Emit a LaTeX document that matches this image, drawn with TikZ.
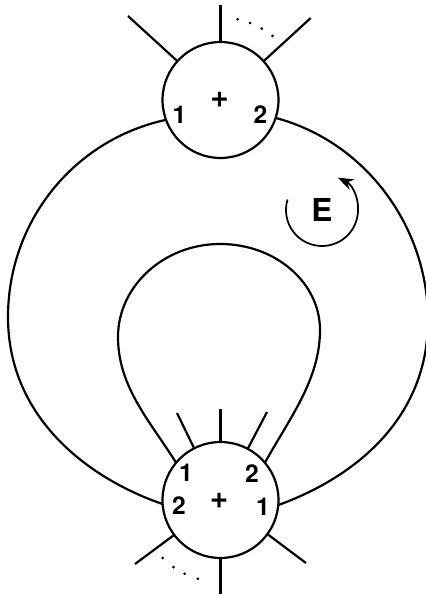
\documentclass[tikz,border=0pt]{standalone}
\usepackage{fontspec}
\setmainfont{TeX Gyre Heros}
\usetikzlibrary{arrows.meta}
\tikzset{
  vertex/.style={circle, draw, line width=1.25pt, minimum size=2.32cm, inner sep=0pt, outer sep=0pt},
  num/.style={font=\fontsize{14}{14}\selectfont\bfseries, inner sep=0pt},
  sign/.style={font=\fontsize{18}{18}\selectfont\bfseries, inner sep=0pt},
}
\begin{document}
\begin{tikzpicture}[x=0.02cm, y=0.02cm, line width=1.25pt]
\useasboundingbox (0,0) rectangle (426,596);
\node[vertex] (top) at (220.5,496) {};
\node[vertex] (bot) at (220.5,96) {};
% labels in the upper vertex
\node[sign] (topplus) at (219.5,496) {+};
\node[num] (top1) at (179.5,481) {1};
\node[num] (top2) at (260.5,481) {2};
% labels in the lower vertex
\node[sign] (botplus) at (219,95) {+};
\node[num] (bot1a) at (186,123) {1};
\node[num] (bot2a) at (252,122) {2};
\node[num] (bot2b) at (179,90) {2};
\node[num] (bot1b) at (263,89) {1};
% free ends of the legs
\coordinate (tl) at (128,580);
\coordinate (tm) at (220.5,591);
\coordinate (tr) at (310.7,578);
\coordinate (bl1) at (177,183);
\coordinate (bm1) at (220.5,187);
\coordinate (br1) at (267,184);
\coordinate (bl2) at (135,32);
\coordinate (bm2) at (220.5,2);
\coordinate (br2) at (306,33);
% Legs
\draw (top.138) -- (tl);
\draw (top.90) -- (tm);
\draw (top.42) -- (tr);
\draw (bot.117) -- (bl1);
\draw (bot.90) -- (bm1);
\draw (bot.62) -- (br1);
\draw (bot.217) -- (bl2);
\draw (bot.270) -- (bm2);
\draw (bot.324) -- (br2);
% dots
\foreach \a in {51,60,69,78} \fill (top.center) ++(\a:82.5) circle (1.5);
\foreach \a in {225,235,244,254} \fill (bot.center) ++(\a:82) circle (1.5);
% outer loop
\coordinate (outl) at (8,279);
\coordinate (outr) at (428,276);
\draw (top.200) .. controls (73,456) and (8,374) .. (outl)
  .. controls (8,179) and (87,118) .. (bot.184);
\draw (top.342) .. controls (366,454) and (428,369) .. (outr)
  .. controls (428,176) and (353,118) .. (bot.355);
% inner loop
\coordinate (loopl) at (118,259);
\coordinate (looptop) at (220,352);
\coordinate (loopr) at (320,266);
\draw (bot.140) .. controls (150,175) and (118,209) .. (loopl)
  .. controls (118,310) and (164,352) .. (looptop)
  .. controls (276,352) and (320,313) .. (loopr)
  .. controls (320,216) and (289,177) .. (bot.40);
% orientation
\node[font=\fontsize{18}{18}\selectfont\bfseries, inner sep=0pt] (E) at (322,386) {E};
\draw[line width=1pt, -{Stealth[length=9pt, width=6.5pt]}] (E.center) ++(163:36) arc[start angle=163, end angle=424, radius=36];
\end{tikzpicture}
\end{document}
